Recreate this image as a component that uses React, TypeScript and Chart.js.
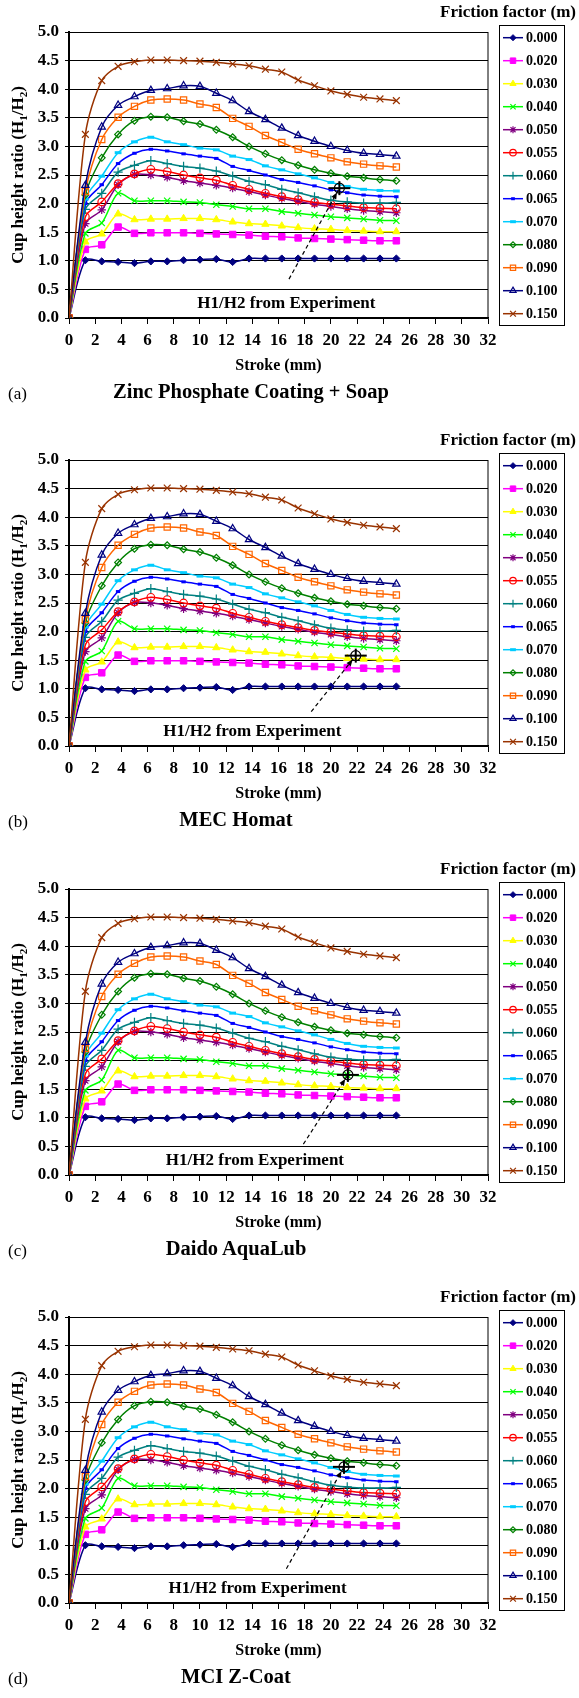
import React, { useEffect, useRef } from "react";
import { Chart, registerables } from "chart.js";
import { drawPoint } from "chart.js/helpers";

Chart.register(...registerables);

// ---------------- DATA ----------------
const strokeMm = [0, 1.25, 2.5, 3.75, 5, 6.25, 7.5, 8.75, 10, 11.25, 12.5, 13.75, 15, 16.25, 17.5, 18.75, 20, 21.25, 22.5, 23.75, 25];

const frictionLabels = ["0.000", "0.020", "0.030", "0.040", "0.050", "0.055", "0.060", "0.065", "0.070", "0.080", "0.090", "0.100", "0.150"];

const m000 = [0, 1.01, 0.99, 0.98, 0.96, 0.99, 0.99, 1.01, 1.02, 1.03, 0.98, 1.04, 1.04, 1.04, 1.04, 1.04, 1.04, 1.04, 1.04, 1.04, 1.04];
const m020 = [0, 1.2, 1.28, 1.59, 1.48, 1.49, 1.49, 1.49, 1.48, 1.47, 1.46, 1.45, 1.43, 1.42, 1.4, 1.39, 1.38, 1.37, 1.36, 1.35, 1.35];
const m030 = [0, 1.33, 1.47, 1.82, 1.72, 1.73, 1.73, 1.74, 1.74, 1.72, 1.68, 1.65, 1.64, 1.61, 1.58, 1.56, 1.55, 1.53, 1.52, 1.51, 1.51];
const m040 = [0, 1.48, 1.66, 2.18, 2.05, 2.05, 2.05, 2.03, 2.02, 1.98, 1.95, 1.91, 1.91, 1.86, 1.83, 1.8, 1.77, 1.75, 1.73, 1.71, 1.7];
const m050 = [0, 1.65, 1.89, 2.33, 2.51, 2.5, 2.46, 2.4, 2.36, 2.32, 2.27, 2.21, 2.15, 2.09, 2.04, 1.99, 1.95, 1.91, 1.88, 1.86, 1.84];
const m055 = [0, 1.77, 2.03, 2.35, 2.52, 2.6, 2.56, 2.5, 2.45, 2.41, 2.32, 2.25, 2.18, 2.12, 2.07, 2.02, 1.99, 1.96, 1.93, 1.92, 1.91];
const m060 = [0, 1.9, 2.18, 2.55, 2.67, 2.75, 2.7, 2.65, 2.62, 2.57, 2.48, 2.39, 2.33, 2.25, 2.19, 2.12, 2.06, 2.03, 2.01, 2.01, 2.02];
const m065 = [0, 2.0, 2.33, 2.7, 2.88, 2.95, 2.92, 2.87, 2.83, 2.79, 2.65, 2.58, 2.5, 2.42, 2.37, 2.31, 2.24, 2.19, 2.15, 2.13, 2.12];
const m070 = [0, 2.08, 2.48, 2.89, 3.08, 3.16, 3.08, 3.03, 2.97, 2.94, 2.83, 2.77, 2.66, 2.59, 2.52, 2.45, 2.37, 2.3, 2.25, 2.23, 2.22];
const m080 = [0, 2.15, 2.8, 3.21, 3.45, 3.52, 3.51, 3.44, 3.39, 3.29, 3.16, 3.0, 2.87, 2.76, 2.67, 2.59, 2.53, 2.48, 2.45, 2.42, 2.4];
const m090 = [0, 2.21, 3.12, 3.51, 3.7, 3.81, 3.83, 3.81, 3.74, 3.68, 3.49, 3.35, 3.19, 3.07, 2.95, 2.87, 2.8, 2.73, 2.69, 2.66, 2.64];
const m100 = [0, 2.32, 3.34, 3.72, 3.87, 3.98, 4.01, 4.06, 4.05, 3.93, 3.8, 3.61, 3.47, 3.32, 3.19, 3.09, 3.0, 2.93, 2.88, 2.86, 2.83];
const m150 = [0, 3.21, 4.15, 4.4, 4.48, 4.51, 4.51, 4.5, 4.49, 4.47, 4.44, 4.41, 4.35, 4.3, 4.16, 4.06, 3.97, 3.91, 3.86, 3.83, 3.8];

const seriesValues = [m000, m020, m030, m040, m050, m055, m060, m065, m070, m080, m090, m100, m150];

// experiment points per panel
const panelLetters = ["(a)", "(b)", "(c)", "(d)"];
const panelTitles = ["Zinc Phosphate Coating + Soap", "MEC Homat", "Daido AquaLub", "MCI Z-Coat"];
const expStroke = [20.65, 21.9, 21.3, 21.0];
const expRatio = [2.27, 1.58, 1.75, 2.38];
const arrowTailStroke = [16.8, 18.5, 17.9, 16.6];
const arrowTailRatio = [0.68, 0.6, 0.54, 0.6];
const noteText = "H1/H2 from Experiment";
const noteStroke = [16.6, 14.0, 14.2, 14.4];
const noteRatio = [0.25, 0.25, 0.25, 0.25];

// axes
const xMin = 0, xMax = 32, xStep = 2;
const yMin = 0, yMax = 5, yStep = 0.5;

// ---------------- STYLE ----------------
const SERIF = '"Liberation Serif", "Times New Roman", serif';
const seriesColors = ["#000080", "#FF00FF", "#FFFF00", "#00FF00", "#800080", "#FF0000", "#008080", "#0000FF", "#00CCFF", "#008000", "#FF6600", "#000080", "#993300"];
const markerStyle = ["rectRot", "rect", "triangle", "crossRot", "star", "circle", "cross", "line", "line", "rectRot", "rect", "triangle", "crossRot"];
const markerRadius = [3.6, 4.6, 4.2, 4.4, 4.2, 3.8, 4.6, 2.2, 3.4, 3.4, 4.4, 4.2, 4.8];
const markerFilled = [true, true, true, false, false, false, false, false, false, false, false, false, false];
const markerBorder = [1, 1, 1, 1.2, 1.2, 1.2, 1.2, 3, 3, 1.2, 1.2, 1.2, 1.2];

const panelTop = [0, 428, 857, 1285];
const panelHeight = [428, 429, 428, 413];
const titleCenter = [251, 236, 236, 236];

const plotLeft = 69, plotRight = 488, plotTop = 32, plotBottom = 318;

const decorPlugin = {
  id: "decor",
  beforeDatasetsDraw(chart: any) {
    const { ctx, chartArea: a } = chart;
    ctx.save();
    ctx.strokeStyle = "#000";
    ctx.lineWidth = 1;
    ctx.strokeRect(Math.round(a.left) + 0.5, Math.round(a.top) + 0.5, Math.round(a.right - a.left) - 0.5, Math.round(a.bottom - a.top));
    ctx.restore();
  },
  afterDatasetsDraw(chart: any, _args: any, opts: any) {
    const { ctx, scales } = chart;
    const p = opts.panel as number;
    const x0 = scales.x.getPixelForValue(arrowTailStroke[p]);
    const y0 = scales.y.getPixelForValue(arrowTailRatio[p]);
    const x1 = scales.x.getPixelForValue(expStroke[p]);
    const y1 = scales.y.getPixelForValue(expRatio[p]);
    const ang = Math.atan2(y1 - y0, x1 - x0);
    const hx = x1 - Math.cos(ang) * 5;
    const hy = y1 - Math.sin(ang) * 5;
    ctx.save();
    ctx.fillStyle = "#000";
    ctx.beginPath();
    ctx.moveTo(hx, hy);
    ctx.lineTo(hx - Math.cos(ang - 0.4) * 7, hy - Math.sin(ang - 0.4) * 7);
    ctx.lineTo(hx - Math.cos(ang + 0.4) * 7, hy - Math.sin(ang + 0.4) * 7);
    ctx.closePath();
    ctx.fill();
    ctx.restore();
  },
  afterDraw(chart: any, _args: any, opts: any) {
    const { ctx, chartArea: a, scales } = chart;
    const p = opts.panel as number;
    ctx.save();
    ctx.fillStyle = "#000";
    const big = `bold 17px ${SERIF}`;
    const small = `bold 11px ${SERIF}`;
    const parts: [string, boolean][] = [["Cup height ratio (H", false], ["1", true], ["/H", false], ["2", true], [")", false]];
    let total = 0;
    const widths = parts.map(([t, sub]) => {
      ctx.font = sub ? small : big;
      const w = ctx.measureText(t).width;
      total += w;
      return w;
    });
    ctx.translate(19, (a.top + a.bottom) / 2);
    ctx.rotate(-Math.PI / 2);
    ctx.textBaseline = "middle";
    ctx.textAlign = "left";
    let cx = -total / 2;
    parts.forEach(([t, sub], i) => {
      ctx.font = sub ? small : big;
      ctx.fillText(t, cx, sub ? 5 : 0);
      cx += widths[i];
    });
    ctx.setTransform(1, 0, 0, 1, 0, 0);
    const dpr = chart.currentDevicePixelRatio || 1;
    ctx.scale(dpr, dpr);

    ctx.font = big;
    ctx.textAlign = "center";
    ctx.textBaseline = "middle";
    ctx.fillText(noteText, scales.x.getPixelForValue(noteStroke[p]), scales.y.getPixelForValue(noteRatio[p]));

    ctx.font = big;
    ctx.textAlign = "center";
    ctx.fillText("Friction factor (m)", 508, 13);
    ctx.strokeStyle = "#000";
    ctx.lineWidth = 1;
    ctx.strokeRect(499.5, 25.5, 65, 300);
    ctx.font = `bold 14px ${SERIF}`;
    ctx.textAlign = "left";
    frictionLabels.forEach((lab, i) => {
      const y = 37.7 + i * 23;
      ctx.strokeStyle = seriesColors[i];
      ctx.lineWidth = 1.5;
      ctx.beginPath();
      ctx.moveTo(503, y);
      ctx.lineTo(523, y);
      ctx.stroke();
      ctx.fillStyle = markerFilled[i] ? seriesColors[i] : "rgba(0,0,0,0)";
      ctx.lineWidth = markerBorder[i];
      drawPoint(ctx, { pointStyle: markerStyle[i], rotation: 0, radius: markerRadius[i] * 0.85, borderWidth: markerBorder[i] } as any, 513, y);
      ctx.fillStyle = "#000";
      ctx.fillText(lab, 526, y + 0.5);
    });
    ctx.restore();
  },
};

function Panel({ idx }: { idx: number }) {
  const ref = useRef<HTMLCanvasElement>(null);
  const h = panelHeight[idx];
  useEffect(() => {
    const datasets: any[] = seriesValues.map((vals, i) => ({
      label: frictionLabels[i],
      data: strokeMm.map((x, k) => ({ x, y: vals[k] })),
      borderColor: seriesColors[i],
      backgroundColor: seriesColors[i],
      borderWidth: 1.5,
      tension: 0.3,
      pointStyle: markerStyle[i],
      pointRadius: markerRadius[i],
      pointBorderWidth: markerBorder[i],
      pointBorderColor: seriesColors[i],
      pointBackgroundColor: markerFilled[i] ? seriesColors[i] : "rgba(0,0,0,0)",
      order: 20 - i,
    }));
    datasets.push({
      label: "arrow",
      data: [{ x: arrowTailStroke[idx], y: arrowTailRatio[idx] }, { x: expStroke[idx], y: expRatio[idx] }],
      borderColor: "#000",
      borderWidth: 1.2,
      borderDash: [4, 3],
      pointRadius: 0,
      tension: 0,
      order: 2,
    });
    datasets.push({
      label: "exp-circle",
      data: [{ x: expStroke[idx], y: expRatio[idx] }],
      showLine: false,
      pointStyle: "circle",
      pointRadius: 5,
      pointBorderWidth: 1.2,
      pointBorderColor: "#000",
      pointBackgroundColor: "rgba(0,0,0,0)",
      order: 1,
    });
    datasets.push({
      label: "exp-h",
      data: [{ x: expStroke[idx], y: expRatio[idx] }],
      showLine: false,
      pointStyle: "line",
      pointRadius: 11,
      pointBorderWidth: 2,
      pointBorderColor: "#000",
      order: 0,
    });
    datasets.push({
      label: "exp-v",
      data: [{ x: expStroke[idx], y: expRatio[idx] }],
      showLine: false,
      pointStyle: "line",
      pointRotation: 90,
      pointRadius: 7,
      pointBorderWidth: 2,
      pointBorderColor: "#000",
      order: 0,
    });

    const chart = new Chart(ref.current!, {
      type: "line",
      data: { datasets },
      options: {
        animation: false,
        responsive: false,
        maintainAspectRatio: false,
        layout: { padding: { left: 0, right: 579 - plotRight, top: plotTop, bottom: h - plotBottom - 57 } },
        plugins: {
          legend: { display: false },
          tooltip: { enabled: false },
          title: { display: false },
          decor: { panel: idx },
        } as any,
        scales: {
          x: {
            type: "linear",
            min: xMin,
            max: xMax,
            afterFit: (s: any) => { s.height = 57; },
            ticks: { stepSize: xStep, color: "#000", font: { family: SERIF, size: 17, weight: "bold" }, padding: 6, maxRotation: 0 },
            grid: { drawOnChartArea: false, drawTicks: true, tickLength: 6, color: "#000", lineWidth: 1 },
            border: { display: true, color: "#000", width: 1.5 },
            title: { display: true, text: "Stroke (mm)", color: "#000", font: { family: SERIF, size: 16, weight: "bold" }, padding: { top: 0, bottom: 0 } },
          },
          y: {
            type: "linear",
            min: yMin,
            max: yMax,
            afterFit: (s: any) => { s.width = plotLeft; },
            ticks: { stepSize: yStep, color: "#000", font: { family: SERIF, size: 17, weight: "bold" }, padding: 6, callback: (v: any) => Number(v).toFixed(1) },
            grid: { drawOnChartArea: true, drawTicks: true, tickLength: 4, color: "#000", lineWidth: 1 },
            border: { display: true, color: "#000", width: 2 },
          },
        },
      },
      plugins: [decorPlugin],
    } as any);
    return () => chart.destroy();
  }, [idx, h]);

  return (
    <div style={{ position: "absolute", left: 0, top: panelTop[idx], width: 579, height: h, overflow: "hidden" }}>
      <canvas ref={ref} width={579} height={h} style={{ position: "absolute", left: 0, top: 0, width: 579, height: h }} />
      <div style={{ position: "absolute", left: 8, top: 384, font: `17px ${SERIF}`, color: "#000", whiteSpace: "nowrap" }}>
        {panelLetters[idx]}
      </div>
      <div style={{ position: "absolute", left: titleCenter[idx] - 200, width: 400, top: 380, textAlign: "center", font: `bold 20.5px ${SERIF}`, color: "#000", whiteSpace: "nowrap" }}>
        {panelTitles[idx]}
      </div>
    </div>
  );
}

export default function App() {
  return (
    <div style={{ position: "absolute", left: 0, top: 0, width: 579, height: 1698, background: "#fff", overflow: "hidden" }}>
      {[0, 1, 2, 3].map((i) => (
        <Panel key={i} idx={i} />
      ))}
    </div>
  );
}
